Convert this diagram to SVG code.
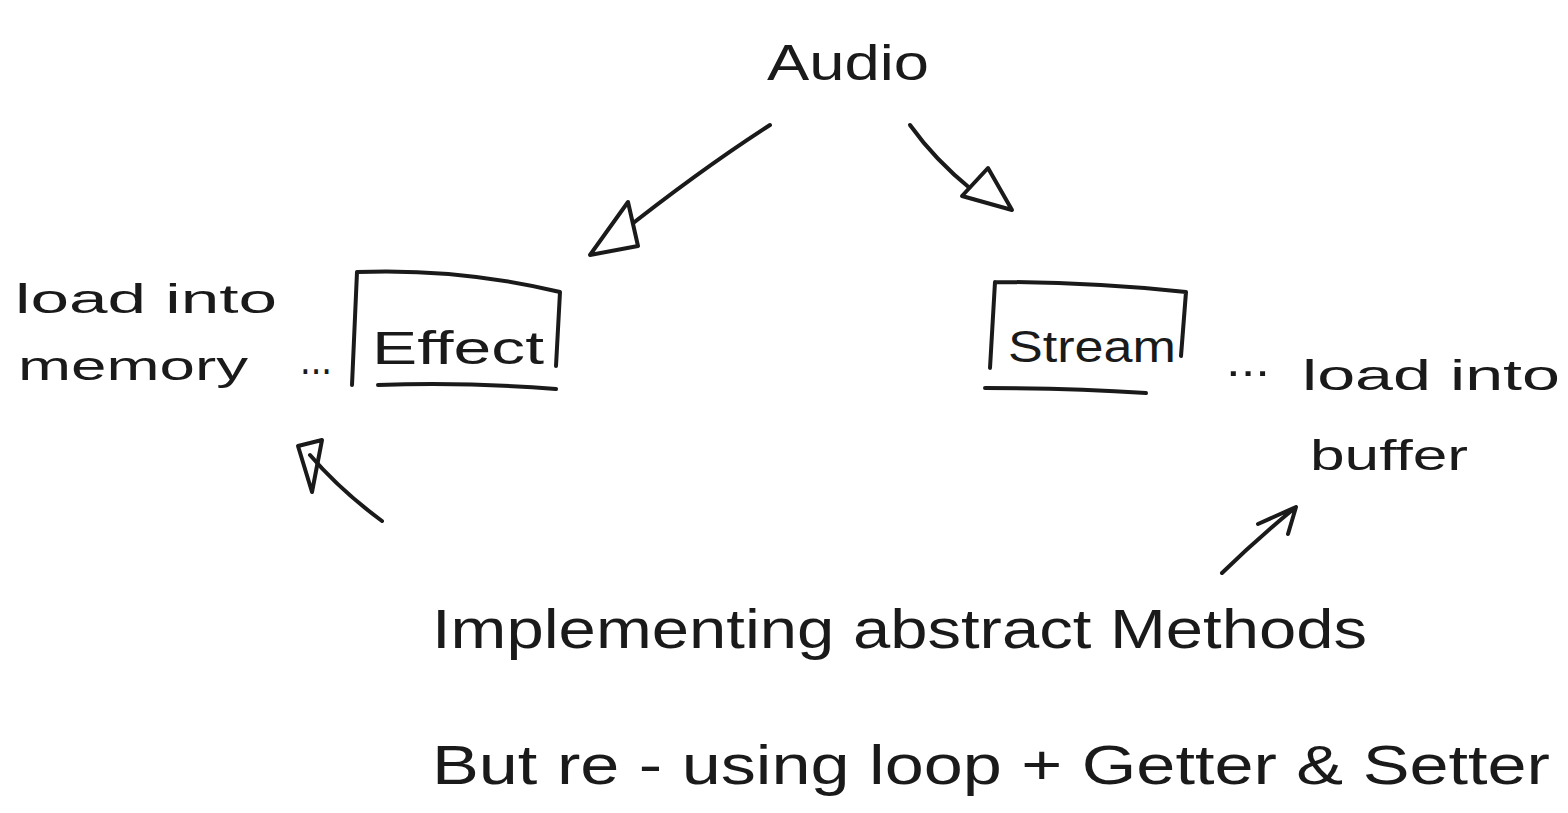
<svg xmlns="http://www.w3.org/2000/svg" width="1568" height="813" viewBox="0 0 1568 813">
<style>
.t{font-family:"Liberation Sans","DejaVu Sans",sans-serif;fill:#1a1a1a}
.s{fill:none;stroke:#1a1a1a;stroke-width:4;stroke-linecap:round;stroke-linejoin:round}
.h{fill:#fff;stroke:#1a1a1a;stroke-width:4;stroke-linejoin:round}
</style>
<rect width="1568" height="813" fill="#ffffff"/>
<g id="audio"><text class="t" x="848" y="80" font-size="50" text-anchor="middle" textLength="162" lengthAdjust="spacingAndGlyphs">Audio</text></g>
<g id="effect">
<path class="s" d="M357 272 L352 385 M357 272 Q460 268 560 292 L556 366 M378 385 Q470 382 556 389"/>
<text class="t" x="372" y="364" font-size="46" textLength="172" lengthAdjust="spacingAndGlyphs">Effect</text>
</g>
<g id="stream">
<path class="s" d="M995 282 L990 368 M995 282 Q1090 282 1186 292 L1181 356 M985 388 Q1070 388 1146 393"/>
<text class="t" x="1008" y="362" font-size="44" textLength="168" lengthAdjust="spacingAndGlyphs">Stream</text>
</g>
<g id="note-memory">
<text class="t" x="15" y="313" font-size="40" textLength="262" lengthAdjust="spacingAndGlyphs">load into</text>
<text class="t" x="18" y="380" font-size="40" textLength="230" lengthAdjust="spacingAndGlyphs">memory</text>
<text class="t" x="300" y="374" font-size="44" textLength="32" lengthAdjust="spacingAndGlyphs">...</text>
</g>
<g id="note-buffer">
<text class="t" x="1226" y="376" font-size="44" textLength="44" lengthAdjust="spacingAndGlyphs">...</text>
<text class="t" x="1302" y="390" font-size="42" textLength="258" lengthAdjust="spacingAndGlyphs">load into</text>
<text class="t" x="1310" y="470" font-size="42" textLength="158" lengthAdjust="spacingAndGlyphs">buffer</text>
</g>
<g id="note-methods">
<text class="t" x="432" y="648" font-size="56" textLength="935" lengthAdjust="spacingAndGlyphs">Implementing abstract Methods</text>
<text class="t" x="432" y="784" font-size="56" textLength="1118" lengthAdjust="spacingAndGlyphs">But re - using loop + Getter &amp; Setter</text>
</g>
<g id="connectors">
<path class="s" d="M770 125 Q700 170 618 235"/>
<path class="h" d="M590 255 L628 202 L638 246 Z"/>
<path class="s" d="M910 125 Q935 160 972 190"/>
<path class="h" d="M962 196 L988 168 L1012 210 Z"/>
<path class="s" d="M382 521 Q340 490 310 455"/>
<path class="s" d="M312 492 L298 446 L322 440 Z"/>
<path class="s" d="M1222 573 Q1258 538 1296 507 M1258 524 L1296 507 L1288 534"/>
</g>
</svg>
